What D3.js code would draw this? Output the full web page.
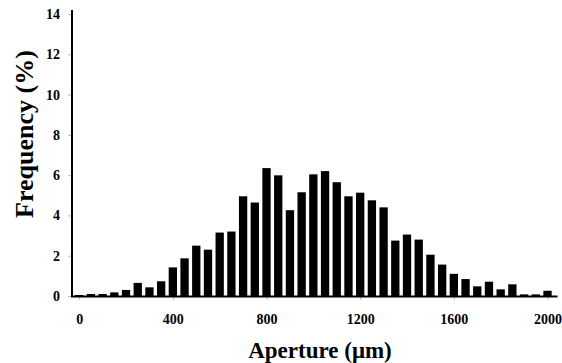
<!DOCTYPE html>
<html>
<head>
<meta charset="utf-8">
<script src="https://cdn.jsdelivr.net/npm/d3@7"></script>
<style>
  body { margin: 0; background: #fff; }
  text { font-family: "Liberation Serif", "Times New Roman", serif; font-weight: bold; }
</style>
</head>
<body>
<div id="chart"></div>
<script>
// aperture bin centres (um) and frequency (%)
var apertures = [0,50,100,150,200,250,300,350,400,450,500,550,600,650,700,750,800,850,900,950,
                 1000,1050,1100,1150,1200,1250,1300,1350,1400,1450,1500,1550,1600,1650,1700,1750,1800,1850,1900,1950,2000];
var freq = [0.05,0.1,0.1,0.18,0.3,0.65,0.43,0.73,1.42,1.87,2.5,2.3,3.15,3.2,4.95,4.64,6.35,5.99,4.26,5.15,
            6.04,6.2,5.65,4.95,5.13,4.75,4.4,2.75,3.05,2.8,2.05,1.56,1.1,0.84,0.48,0.71,0.33,0.58,0.08,0.08,0.26];
var xTicks = [0,400,800,1200,1600,2000];
var yTicks = [0,2,4,6,8,10,12,14];

var width = 562, height = 363;

var svg = d3.select("#chart")
    .append("svg")
    .attr("width", width)
    .attr("height", height)

var xScale = d3.scaleLinear()
    .domain([0, 2000])
    .range([79.2, 547.5])

var yScale = d3.scaleLinear()
    .domain([0, 14])
    .range([296, 14])

var barW = (xScale(50) - xScale(0)) * 0.71

// bars
svg.append("g")
    .selectAll("rect")
    .data(freq)
    .enter()
    .append("rect")
    .attr("x", function(d, i) { return xScale(apertures[i]) - barW / 2 })
    .attr("width", barW)
    .attr("y", function(d) { return yScale(d) })
    .attr("height", function(d) { return yScale(0) - yScale(d) })
    .attr("fill", "#000")

// y axis
var yAxis = svg.append("g")
    .attr("transform", "translate(72,0)")
    .call(d3.axisLeft(yScale).tickValues(yTicks).tickSize(4).tickPadding(8).tickFormat(d3.format("d")))
yAxis.select(".domain").remove()
yAxis.selectAll(".tick line").attr("stroke", "#bbb")
yAxis.selectAll("text").style("font-size", "14px").attr("fill", "#000")

// x axis
var xAxis = svg.append("g")
    .attr("transform", "translate(0,297)")
    .call(d3.axisBottom(xScale).tickValues(xTicks).tickSize(3).tickPadding(14).tickFormat(d3.format("d")))
xAxis.select(".domain").remove()
xAxis.selectAll(".tick line").attr("stroke", "#bbb")
xAxis.selectAll("text").style("font-size", "14px").attr("fill", "#000")

// axis lines
svg.append("line")
    .attr("x1", 72).attr("x2", 72)
    .attr("y1", yScale(14) - 4).attr("y2", yScale(0) + 1)
    .attr("stroke", "#000").attr("stroke-width", 2)
svg.append("line")
    .attr("x1", 71).attr("x2", xScale(2000) + 10)
    .attr("y1", yScale(0) + 0.5).attr("y2", yScale(0) + 0.5)
    .attr("stroke", "#000").attr("stroke-width", 2)

// titles
svg.append("text")
    .attr("x", 320)
    .attr("y", 358)
    .attr("text-anchor", "middle")
    .style("font-size", "23px")
    .text("Aperture (\u03bcm)")

svg.append("text")
    .attr("transform", "translate(33,134) rotate(-90)")
    .attr("text-anchor", "middle")
    .style("font-size", "26px")
    .text("Frequency (%)")
</script>
</body>
</html>
